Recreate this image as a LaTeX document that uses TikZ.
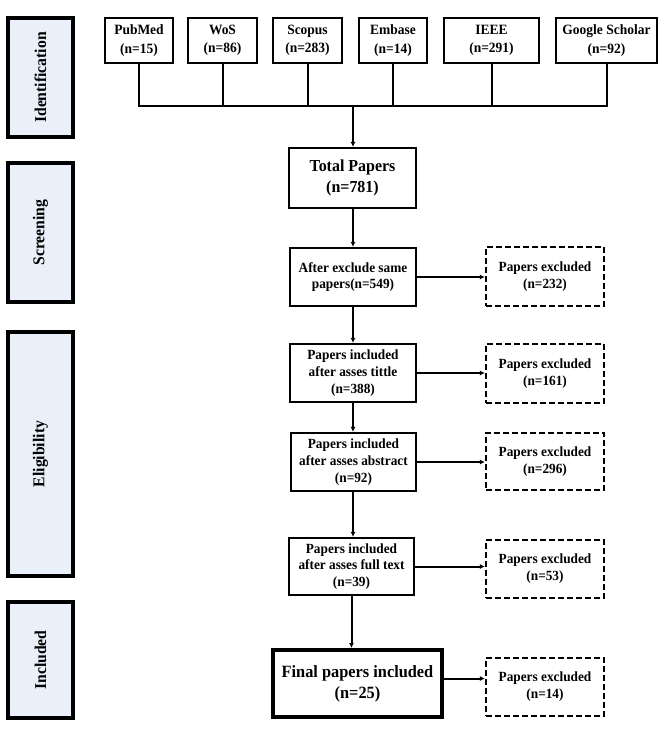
\documentclass[tikz,border=0pt]{standalone}
\usepackage{fontspec}
\setmainfont{Liberation Serif}[FakeStretch=0.95]
\usetikzlibrary{arrows.meta}
\definecolor{stagefill}{RGB}{233,240,250}
\begin{document}
\begin{tikzpicture}[x=1pt,y=-1pt,
	every node/.style={inner sep=0pt,align=center,font=\fontsize{14}{16.8}\selectfont\bfseries},
	srcbox/.style={draw,line width=2.2pt,minimum height=45pt,font=\fontsize{14.2}{18.5}\selectfont\bfseries},
	mainbox/.style={draw,line width=2.2pt,minimum width=126pt,minimum height=58pt},
	exbox/.style={draw,dash pattern=on 6pt off 3pt,line width=2.2pt,minimum width=118pt,minimum height=58pt},
	stagebox/.style={draw,line width=3.2pt,fill=stagefill,rotate=90,minimum height=65pt,font=\fontsize{16.5}{19}\selectfont\bfseries},
	conn/.style={line width=2pt,line cap=rect},
	arr/.style={line width=2pt,-{Latex[length=5pt,width=5pt]}}]
	\useasboundingbox (0,0) rectangle (666,729);
	\node [stagebox,minimum width=119pt] (ident) at (40.5,77.5) {Identification};
	\node [stagebox,minimum width=139pt] (screen) at (40.5,232.5) {Screening};
	\node [stagebox,minimum width=244pt] (elig) at (40.5,454) {Eligibility};
	\node [stagebox,minimum width=116pt] (incl) at (40.5,660) {Included};
	\node [srcbox,minimum width=68pt] (pubmed) at (139,40.5) {PubMed\\(n=15)};
	\node [srcbox,minimum width=69pt] (wos) at (222.5,40.5) {WoS\\(n=86)};
	\node [srcbox,minimum width=69pt] (scopus) at (307.5,40.5) {Scopus\\(n=283)};
	\node [srcbox,minimum width=68pt] (embase) at (393,40.5) {Embase\\(n=14)};
	\node [srcbox,minimum width=95pt] (ieee) at (491.5,40.5) {IEEE\\(n=291)};
	\node [srcbox,minimum width=101pt] (scholar) at (606.5,40.5) {Google Scholar\\(n=92)};
	\coordinate (bus) at (353,106);
	\foreach \s in {pubmed,wos,scopus,embase,ieee,scholar}
		\draw [conn] (\s.south) -- (\s.south |- bus);
	\draw [conn] (pubmed.south |- bus) -- (scholar.south |- bus);
	\node [mainbox,minimum width=127pt,minimum height=60pt,font=\fontsize{16.8}{21}\selectfont\bfseries] (total) at (352.5,178) {Total Papers\\(n=781)};
	\node [mainbox] (dedup) at (353,277) {After exclude same\\papers(n=549)};
	\node [mainbox] (title) at (353,373) {Papers included\\after asses tittle\\(n=388)};
	\node [mainbox,minimum width=125pt] (abstract) at (353.5,462) {Papers included\\after asses abstract\\(n=92)};
	\node [mainbox,minimum width=125pt,minimum height=57pt] (fulltext) at (351.5,566.5) {Papers included\\after asses full text\\(n=39)};
	\node [mainbox,line width=4pt,minimum width=169pt,minimum height=67pt,font=\fontsize{17.2}{21}\selectfont\bfseries] (final) at (357.5,683.5) {Final papers included\\(n=25)};
	\node [exbox,minimum height=59pt] (ex1) at (545,276.5) {Papers excluded\\(n=232)};
	\node [exbox,minimum height=59pt] (ex2) at (545,373.5) {Papers excluded\\(n=161)};
	\node [exbox,minimum height=57pt] (ex3) at (545,461.5) {Papers excluded\\(n=296)};
	\node [exbox] (ex4) at (545,569) {Papers excluded\\(n=53)};
	\node [exbox] (ex5) at (545,687) {Papers excluded\\(n=14)};
	\draw [arr] (bus) -- (bus |- total.north);
	\draw [arr] (total.south -| bus) -- (bus |- dedup.north);
	\draw [arr] (dedup.south -| bus) -- (bus |- title.north);
	\draw [arr] (title.south -| bus) -- (bus |- abstract.north);
	\draw [arr] (abstract.south -| bus) -- (bus |- fulltext.north);
	\draw [arr] (fulltext.south) -- (fulltext.south |- final.north);
	\draw [arr] (dedup.east) -- (dedup.east -| ex1.west);
	\draw [arr] (title.east) -- (title.east -| ex2.west);
	\draw [arr] (abstract.east) -- (abstract.east -| ex3.west);
	\draw [arr] (fulltext.east) -- (fulltext.east -| ex4.west);
	\draw [arr] ([yshift=5pt]final.east) -- ([yshift=5pt]final.east -| ex5.west);
\end{tikzpicture}
\end{document}
